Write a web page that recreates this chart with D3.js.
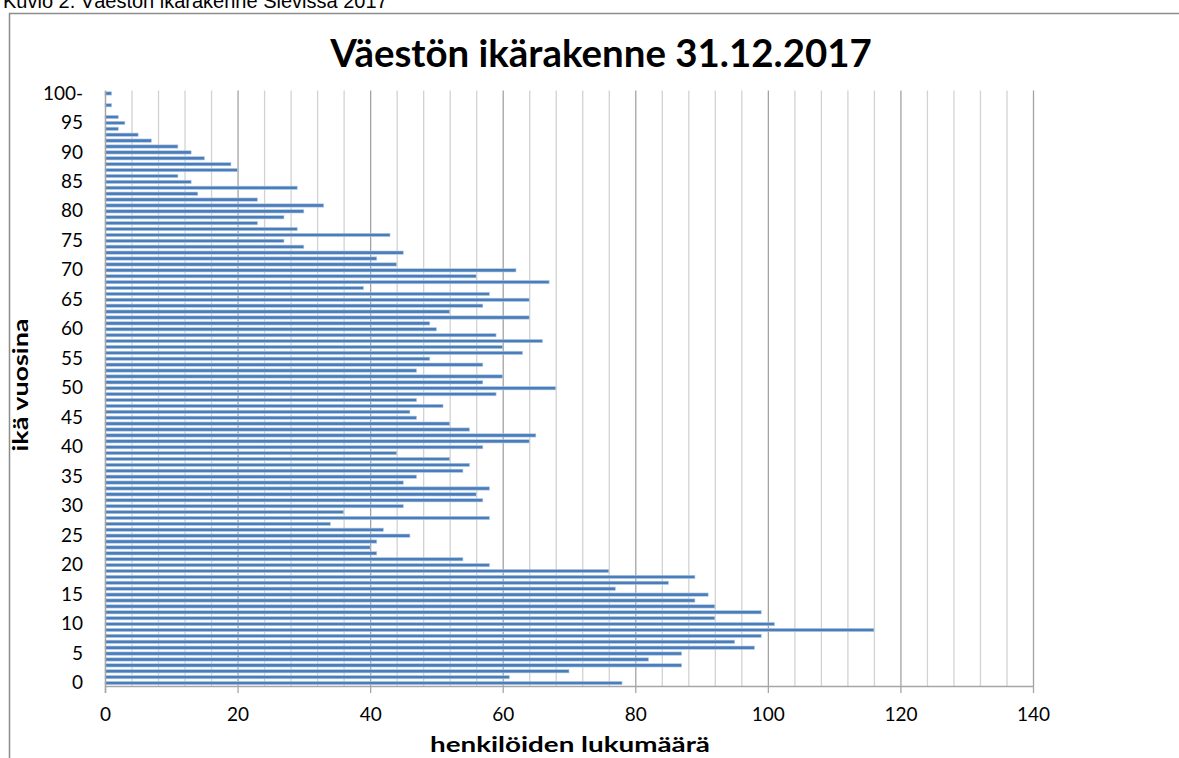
<!DOCTYPE html>
<html>
<head>
<meta charset="utf-8">
<script src="https://cdn.jsdelivr.net/npm/d3@7/dist/d3.min.js"></script>
<style>
  html, body { margin: 0; padding: 0; background: #fff; }
  svg { display: block; }
</style>
</head>
<body>
<svg id="chart" width="1179" height="758"></svg>
<script>
// ---- data ----
const ages = d3.range(0, 101);
const ageTickLabels = ["0","5","10","15","20","25","30","35","40","45","50","55","60","65","70","75","80","85","90","95","100-"];
const ageTickValues = [0,5,10,15,20,25,30,35,40,45,50,55,60,65,70,75,80,85,90,95,100];
const counts = [
  78, 61, 70, 87, 82, 87, 98, 95, 99, 116,
  101, 92, 99, 92, 89, 91, 77, 85, 89, 76,
  58, 54, 41, 40, 41, 46, 42, 34, 58, 36,
  45, 57, 56, 58, 45, 47, 54, 55, 52, 44,
  57, 64, 65, 55, 52, 47, 46, 51, 47, 59,
  68, 57, 60, 47, 57, 49, 63, 60, 66, 59,
  50, 49, 64, 52, 57, 64, 58, 39, 67, 56,
  62, 44, 41, 45, 30, 27, 43, 29, 23, 27,
  30, 33, 23, 14, 29, 13, 11, 20, 19, 15,
  13, 11, 7, 5, 2, 3, 2, 0, 1, 0,
  1
];
const xTicks = [0, 20, 40, 60, 80, 100, 120, 140];
const xMinorTicks = d3.range(0, 141, 4);
const titleText = "Väestön ikärakenne 31.12.2017";
const captionText = "Kuvio 2. Väestön ikärakenne Sievissä 2017";
const xTitle = "henkilöiden lukumäärä";
const yTitle = "ikä vuosina";

// ---- layout ----
const svg = d3.select("#chart");
const pLeft = 105, pRight = 1033, pTop = 90.5, pBottom = 686;
const font = "Lato, 'Open Sans', sans-serif";

const x = d3.scaleLinear().domain([0, 140]).range([pLeft, pRight]);
const y = d3.scaleBand().domain(ages.slice().reverse()).range([pTop, pBottom]).paddingInner(0).paddingOuter(0);

// caption (cut off at top, as in the source) and frame
svg.append("text")
  .attr("x", 3).attr("y", 8)
  .attr("font-family", "Liberation Sans, Arial, sans-serif")
  .attr("font-size", 20)
  .attr("fill", "#000")
  .text(captionText);

svg.append("rect")
  .attr("x", 9.5).attr("y", 13.5)
  .attr("width", 1200).attr("height", 800)
  .attr("fill", "none")
  .attr("stroke", "#8c8c8c")
  .attr("stroke-width", 1.5);

// gridlines
svg.append("g").selectAll("line")
  .data(xMinorTicks.filter(v => v % 20 !== 0))
  .join("line")
  .attr("x1", d => x(d) + 0.5).attr("x2", d => x(d) + 0.5)
  .attr("y1", pTop).attr("y2", pBottom)
  .attr("stroke", "#d2d2d2").attr("stroke-width", 1.3);

svg.append("g").selectAll("line")
  .data(xTicks.filter(v => v !== 0))
  .join("line")
  .attr("x1", d => x(d) + 0.5).attr("x2", d => x(d) + 0.5)
  .attr("y1", pTop).attr("y2", pBottom)
  .attr("stroke", "#a3a3a3").attr("stroke-width", 1.3);

// bars
const barH = 3.3;
svg.append("g").selectAll("rect")
  .data(ages)
  .join("rect")
  .attr("x", x(0))
  .attr("y", d => y(d) + y.bandwidth() / 2 - barH / 2)
  .attr("width", d => Math.max(0, x(counts[d]) - x(0)))
  .attr("height", barH)
  .attr("fill", "#4a7ebb")
  .attr("stroke", "#b8cce4")
  .attr("stroke-width", 0.6);

// x axis
const xAxis = d3.axisBottom(x).tickValues(xTicks).tickSize(7).tickPadding(15).tickFormat(d3.format("d"));
const gx = svg.append("g").attr("transform", `translate(0,${pBottom})`).call(xAxis);
gx.select(".domain").attr("stroke", "#a6a6a6").attr("stroke-width", 1.5).attr("d", `M${pLeft},0.5H${pRight}`);
gx.selectAll(".tick line").attr("stroke", "#a6a6a6").attr("stroke-width", 1.3);
gx.selectAll(".tick text")
  .attr("font-family", font)
  .attr("font-size", 19)
  .attr("fill", "#000");

// y axis
const yAxis = d3.axisLeft(y).tickValues(ageTickValues).tickSize(0).tickPadding(22)
  .tickFormat((d) => ageTickLabels[ageTickValues.indexOf(d)]);
const gy = svg.append("g").attr("transform", `translate(${pLeft},0)`).call(yAxis);
gy.select(".domain").attr("stroke", "#a6a6a6").attr("stroke-width", 1.5).attr("d", `M0.5,${pTop}V${pBottom + 7}`);
gy.selectAll(".tick text")
  .attr("font-family", font)
  .attr("font-size", 19)
  .attr("fill", "#000");

// title
const t = svg.append("text")
  .attr("x", 601).attr("y", 67)
  .attr("text-anchor", "middle")
  .attr("font-family", font)
  .attr("font-weight", "bold")
  .attr("font-size", 30)
  .attr("fill", "#000")
  .text(titleText);
const tw = t.node().getComputedTextLength();
t.attr("font-size", 30 * 542 / tw);

// axis titles
svg.append("text")
  .attr("x", 570).attr("y", 752)
  .attr("text-anchor", "middle")
  .attr("font-family", font)
  .attr("font-weight", "bold")
  .attr("font-size", 20)
  .attr("textLength", 280)
  .attr("lengthAdjust", "spacingAndGlyphs")
  .attr("fill", "#000")
  .text(xTitle);

svg.append("text")
  .attr("transform", "translate(28,385) rotate(-90)")
  .attr("text-anchor", "middle")
  .attr("font-family", font)
  .attr("font-weight", "bold")
  .attr("font-size", 20)
  .attr("textLength", 133)
  .attr("lengthAdjust", "spacingAndGlyphs")
  .attr("fill", "#000")
  .text(yTitle);
</script>
</body>
</html>
